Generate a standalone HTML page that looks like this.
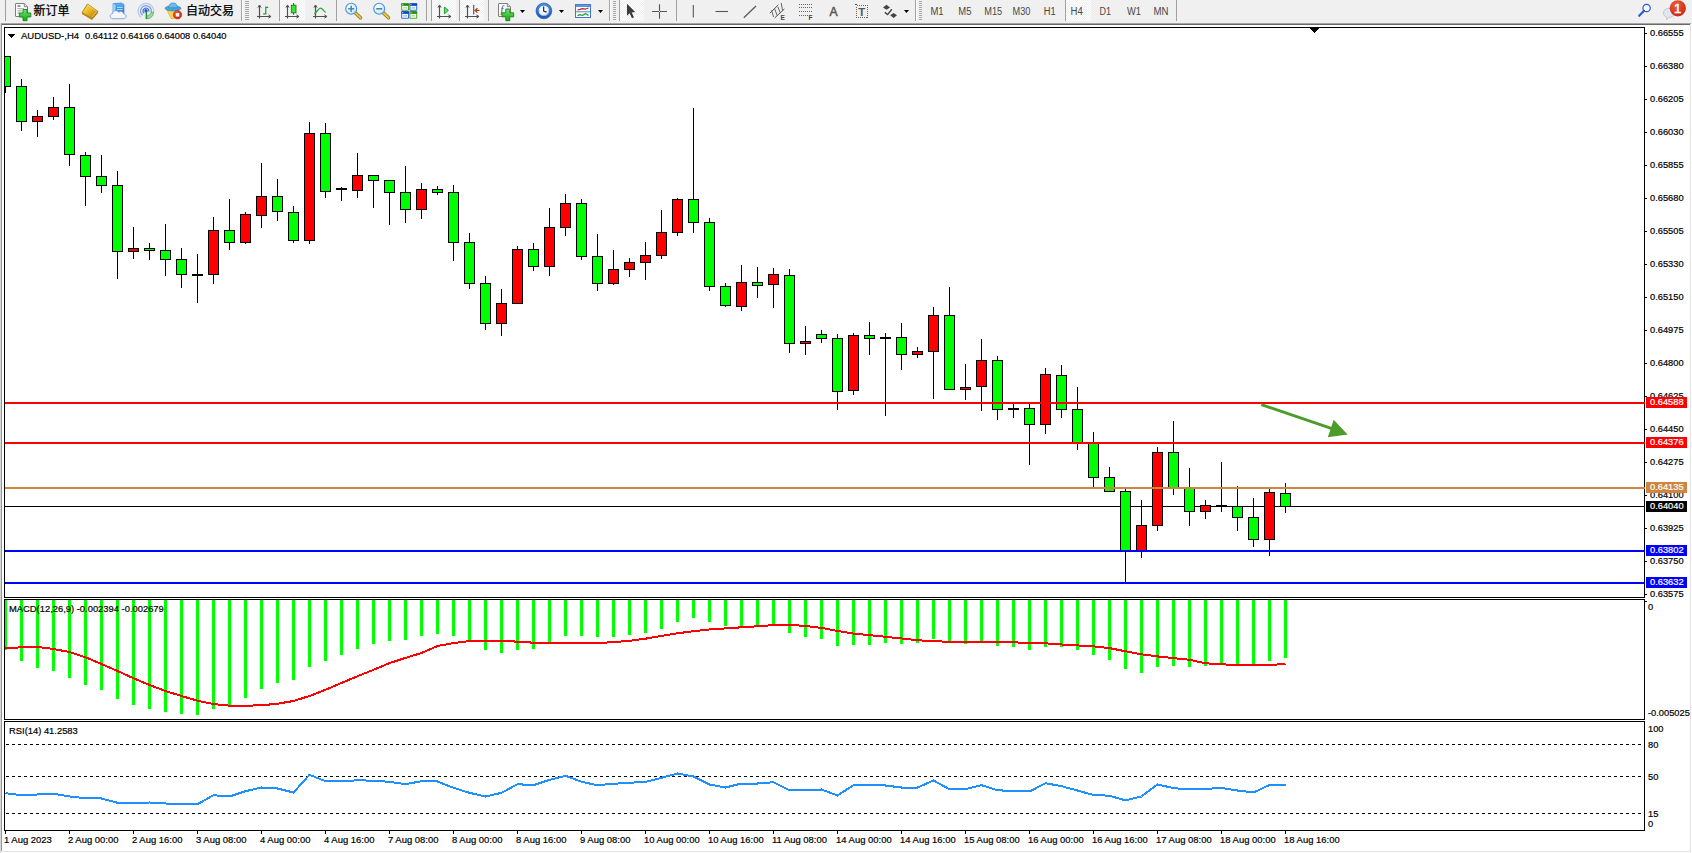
<!DOCTYPE html>
<html><head><meta charset="utf-8"><title>AUDUSD-,H4</title>
<style>
html,body{margin:0;padding:0;background:#fff;}
body{width:1692px;height:853px;overflow:hidden;position:relative;font-family:"Liberation Sans","Noto Sans CJK SC",sans-serif;}
#tb{position:absolute;left:0;top:0;width:1692px;height:23px;background:#f0f0f0;}
#tb svg{position:absolute;left:0;top:0}
</style></head><body>
<div id="tb"><svg width="1692" height="23" viewBox="0 0 1692 23" font-family="Liberation Sans, Noto Sans CJK SC, sans-serif">
<defs>
<linearGradient id="gGold" x1="0" y1="0" x2="1" y2="1"><stop offset="0" stop-color="#ffe680"/><stop offset="0.5" stop-color="#e8b21c"/><stop offset="1" stop-color="#a86c08"/></linearGradient>
<linearGradient id="gGreen" x1="0" y1="0" x2="0" y2="1"><stop offset="0" stop-color="#7be27b"/><stop offset="1" stop-color="#14a514"/></linearGradient>
<linearGradient id="gBlue" x1="0" y1="0" x2="0" y2="1"><stop offset="0" stop-color="#5fb4f5"/><stop offset="1" stop-color="#1d6fd0"/></linearGradient>
<radialGradient id="gLens" cx="0.4" cy="0.35" r="0.7"><stop offset="0" stop-color="#ffffff"/><stop offset="1" stop-color="#bfe0f7"/></radialGradient>
<radialGradient id="gRed" cx="0.4" cy="0.3" r="0.8"><stop offset="0" stop-color="#f0603c"/><stop offset="1" stop-color="#c9200e"/></radialGradient>
<linearGradient id="gRing" x1="0" y1="0" x2="0" y2="1"><stop offset="0" stop-color="#4a90e8"/><stop offset="1" stop-color="#1a52b0"/></linearGradient>
<radialGradient id="gClock" cx="0.45" cy="0.4" r="0.6"><stop offset="0" stop-color="#ffffff"/><stop offset="0.75" stop-color="#e4eefa"/><stop offset="1" stop-color="#9cc0ea"/></radialGradient>
<pattern id="sel" width="2" height="2" patternUnits="userSpaceOnUse"><rect width="2" height="2" fill="#f0f0f0"/><rect width="1" height="1" fill="#fff"/><rect x="1" y="1" width="1" height="1" fill="#fff"/></pattern>
</defs>
<rect x="5" y="0" width="1" height="21" fill="#a0a0a0" shape-rendering="crispEdges"/>
<g>
<path d="M16 3.5 H24.3 L27.5 6.7 V16 Q27.5 16.5 27 16.5 H16 Q15.5 16.5 15.5 16 V4 Q15.5 3.5 16 3.5 Z" fill="#fdfdfd" stroke="#7e7e7e" stroke-width="1"/>
<path d="M24.3 3.5 V6.7 H27.5" fill="#e0e0e0" stroke="#7e7e7e" stroke-width="0.9"/>
<path d="M17.5 6 H20.5" stroke="#555" stroke-width="1.2"/><path d="M17.5 8.7 H24 M17.5 10.9 H22 M17.5 13 H20" stroke="#a0a0a0" stroke-width="1"/>
<path d="M23 9.5 H27 V13 H30.8 V17 H27 V20.7 H23 V17 H19.3 V13 H23 Z" fill="url(#gGreen)" stroke="#0c8a0c" stroke-width="0.9"/>
</g>
<text x="33.6" y="14.9" font-size="12" fill="#000" stroke="#000" stroke-width="0.25">新订单</text>
<g><path d="M87.5 4 L98 11.5 L92 18.7 L82 12.5 Z" fill="url(#gGold)" stroke="#a87410" stroke-width="0.8"/>
<path d="M82 12.5 L92 18.7 L98 11.5 L98 13 L92 20 L82 14 Z" fill="#b57d12"/>
<path d="M87.8 5 L96.6 11.4 L92 17" fill="none" stroke="#fff3b0" stroke-width="0.7" opacity="0.7"/></g>
<g><path d="M113 3.6 L121.5 3 L124 4.6 V14 H113 Z" fill="url(#gBlue)" stroke="#2a7ad8" stroke-width="0.6"/>
<path d="M113 3.6 L115.6 5 V14 H113 Z" fill="#8fd0ff"/>
<path d="M117 7.4 H122.6 M117 9.6 H122.6" stroke="#cfe8ff" stroke-width="0.9"/>
<path d="M112.8 18.7 C109.4 18.7 109.4 14 112.6 13.5 C112.8 10.4 117.2 9.8 118.8 12.2 C120.8 10.6 123.6 11.8 123.8 14 C127 14.2 126.8 18.7 123.6 18.7 Z" fill="#f2f6fb" stroke="#7f9fcf" stroke-width="0.9"/></g>
<g fill="none"><path d="M141 17.2 A7.8 7.8 0 1 1 153.6 12.6" stroke="#b4c8ee" stroke-width="1.2"/>
<path d="M142.6 15.2 A5.3 5.3 0 1 1 151.2 12" stroke="#7f9fe0" stroke-width="1.3"/>
<path d="M144.2 13.3 A2.9 2.9 0 1 1 148.8 11.6" stroke="#4a74d0" stroke-width="1.2"/>
<path d="M146.4 19 A8 8 0 0 0 153.7 12.4 L151.2 12 A5.4 5.4 0 0 1 146.4 16.3 Z" fill="#9adba2" stroke="#3aa848" stroke-width="0.7"/>
<path d="M146.4 11 V19" stroke="#1f9a2a" stroke-width="1.5"/>
<circle cx="146" cy="10.8" r="1.7" fill="#2457c8"/></g>
<g><path d="M166.5 9 L179.5 9 L174 18.5 L171 18.5 Z" fill="#f5d64a" stroke="#d9a520" stroke-width="0.6"/>
<ellipse cx="173" cy="8.3" rx="8" ry="2.6" fill="#4aa3dc" stroke="#2b7fc0" stroke-width="0.6"/>
<path d="M168.7 7.8 C169 3.5 171 3 173 3 C175.5 3 177 3.8 177.4 7.8 Z" fill="#6cbbe8" stroke="#2b7fc0" stroke-width="0.6"/>
<circle cx="177.5" cy="14.8" r="4.2" fill="url(#gRed)" stroke="#b01808" stroke-width="0.5"/>
<rect x="175.8" y="13.1" width="3.4" height="3.4" fill="#fff"/></g>
<text x="186" y="14.9" font-size="12" fill="#000" stroke="#000" stroke-width="0.25">自动交易</text>
<rect x="241" y="0" width="1" height="21" fill="#a0a0a0" shape-rendering="crispEdges"/>
<rect x="242" y="0" width="1" height="21" fill="#fff" shape-rendering="crispEdges"/>
<g shape-rendering="crispEdges" fill="#a8a8a8"><rect x="245" y="1" width="4" height="1"/><rect x="245" y="3" width="4" height="1"/><rect x="245" y="5" width="4" height="1"/><rect x="245" y="7" width="4" height="1"/><rect x="245" y="9" width="4" height="1"/><rect x="245" y="11" width="4" height="1"/><rect x="245" y="13" width="4" height="1"/><rect x="245" y="15" width="4" height="1"/><rect x="245" y="17" width="4" height="1"/><rect x="245" y="19" width="4" height="1"/></g>
<g transform="translate(257,3)" fill="none" stroke="#505050" stroke-width="1.2"><path d="M2.5 2.5 V15.5 M0 13.5 H13.5"/><path d="M0.9 4.6 L2.5 2 L4.1 4.6 M11.4 11.9 L14 13.5 L11.4 15.1" stroke-width="1"/></g>
<path d="M265.8 6.5 V14.5 M265.8 7.4 H268.2 M263.2 13.8 H265.8" stroke="#1f9a2a" stroke-width="1.2" fill="none"/>
<rect x="279" y="0" width="1" height="21" fill="#a0a0a0" shape-rendering="crispEdges"/>
<rect x="280" y="0" width="25" height="21" fill="url(#sel)" shape-rendering="crispEdges"/>
<g transform="translate(285,3)" fill="none" stroke="#505050" stroke-width="1.2"><path d="M2.5 2.5 V15.5 M0 13.5 H13.5"/><path d="M0.9 4.6 L2.5 2 L4.1 4.6 M11.4 11.9 L14 13.5 L11.4 15.1" stroke-width="1"/></g>
<path d="M293.6 3 V14.8" stroke="#0c8a0c" stroke-width="1.1"/><rect x="291.3" y="5.2" width="4.7" height="7.6" fill="#43dc43" stroke="#0c8a0c" stroke-width="0.9"/>
<g transform="translate(313,3)" fill="none" stroke="#505050" stroke-width="1.2"><path d="M2.5 2.5 V15.5 M0 13.5 H13.5"/><path d="M0.9 4.6 L2.5 2 L4.1 4.6 M11.4 11.9 L14 13.5 L11.4 15.1" stroke-width="1"/></g>
<path d="M314.3 13.8 C317 12 318.5 8.2 320.5 8.2 C322.5 8.2 324 11.6 325.8 12.2" stroke="#2aa336" stroke-width="1.2" fill="none"/>
<rect x="336" y="0" width="1" height="21" fill="#a0a0a0" shape-rendering="crispEdges"/>
<g><path d="M355.2 12.8 L360.5 17.8" stroke="#8a6a10" stroke-width="3.4" stroke-linecap="round"/><path d="M355.2 12.8 L360.5 17.8" stroke="#e8c840" stroke-width="2" stroke-linecap="round"/>
<circle cx="351.2" cy="8.8" r="5.5" fill="url(#gLens)" stroke="#4a92e2" stroke-width="1.1"/>
<path d="M348.2 8.8 H354.2 M351.2 5.800000000000001 V11.8" stroke="#4a86ae" stroke-width="1.6" fill="none"/></g>
<g><path d="M383.2 12.8 L388.5 17.8" stroke="#8a6a10" stroke-width="3.4" stroke-linecap="round"/><path d="M383.2 12.8 L388.5 17.8" stroke="#e8c840" stroke-width="2" stroke-linecap="round"/>
<circle cx="379.2" cy="8.8" r="5.5" fill="url(#gLens)" stroke="#4a92e2" stroke-width="1.1"/>
<path d="M376.2 8.8 H382.2" stroke="#4a86ae" stroke-width="1.6" fill="none"/></g>
<rect x="401.2" y="3.2" width="7.8" height="7.6" rx="0.8" fill="#4aa82a"/><rect x="401.2" y="3.2" width="7.8" height="2.4" rx="0.8" fill="#2f8a18"/><rect x="402.2" y="6.0" width="5.8" height="3.8" fill="#fff" opacity="0.95"/><rect x="403.2" y="7.4" width="3.8" height="1" fill="#4aa82a" opacity="0.55"/><rect x="402.2" y="4.2" width="1" height="1" fill="#fff" opacity="0.9"/>
<rect x="409.4" y="3.2" width="7.8" height="7.6" rx="0.8" fill="#2f6fe0"/><rect x="409.4" y="3.2" width="7.8" height="2.4" rx="0.8" fill="#1848b8"/><rect x="410.4" y="6.0" width="5.8" height="3.8" fill="#fff" opacity="0.95"/><rect x="411.4" y="7.4" width="3.8" height="1" fill="#2f6fe0" opacity="0.55"/><rect x="410.4" y="4.2" width="1" height="1" fill="#fff" opacity="0.9"/>
<rect x="401.2" y="11.2" width="7.8" height="7.6" rx="0.8" fill="#2f6fe0"/><rect x="401.2" y="11.2" width="7.8" height="2.4" rx="0.8" fill="#1848b8"/><rect x="402.2" y="14.0" width="5.8" height="3.8" fill="#fff" opacity="0.95"/><rect x="403.2" y="15.399999999999999" width="3.8" height="1" fill="#2f6fe0" opacity="0.55"/><rect x="402.2" y="12.2" width="1" height="1" fill="#fff" opacity="0.9"/>
<rect x="409.4" y="11.2" width="7.8" height="7.6" rx="0.8" fill="#4aa82a"/><rect x="409.4" y="11.2" width="7.8" height="2.4" rx="0.8" fill="#2f8a18"/><rect x="410.4" y="14.0" width="5.8" height="3.8" fill="#fff" opacity="0.95"/><rect x="411.4" y="15.399999999999999" width="3.8" height="1" fill="#4aa82a" opacity="0.55"/><rect x="410.4" y="12.2" width="1" height="1" fill="#fff" opacity="0.9"/>
<rect x="426" y="0" width="1" height="21" fill="#a0a0a0" shape-rendering="crispEdges"/>
<rect x="431" y="0" width="1" height="21" fill="#a0a0a0" shape-rendering="crispEdges"/>
<rect x="432" y="0" width="24" height="21" fill="url(#sel)" shape-rendering="crispEdges"/>
<g transform="translate(437,3)" fill="none" stroke="#505050" stroke-width="1.2"><path d="M2.5 2.5 V15.5 M0 13.5 H13.5"/><path d="M0.9 4.6 L2.5 2 L4.1 4.6 M11.4 11.9 L14 13.5 L11.4 15.1" stroke-width="1"/></g>
<path d="M444.4 7 L448.4 10.4 L444.4 13.8 Z" fill="#5fe06a" stroke="#139a22" stroke-width="0.9"/>
<rect x="459" y="0" width="1" height="21" fill="#a0a0a0" shape-rendering="crispEdges"/>
<rect x="460" y="0" width="24" height="21" fill="url(#sel)" shape-rendering="crispEdges"/>
<g transform="translate(465,3)" fill="none" stroke="#505050" stroke-width="1.2"><path d="M2.5 2.5 V15.5 M0 13.5 H13.5"/><path d="M0.9 4.6 L2.5 2 L4.1 4.6 M11.4 11.9 L14 13.5 L11.4 15.1" stroke-width="1"/></g>
<path d="M473.7 5 V14.6" stroke="#1f6fa8" stroke-width="1.2"/><path d="M474.6 10.4 H479.4 M477.4 8.2 L475 10.4 L477.4 12.6" stroke="#c8380c" stroke-width="1.2" fill="none"/>
<rect x="488" y="0" width="1" height="21" fill="#a0a0a0" shape-rendering="crispEdges"/>
<g><path d="M499 3.5 H507.3 L510.5 6.7 V16 Q510.5 16.5 510 16.5 H499 Q498.5 16.5 498.5 16 V4 Q498.5 3.5 499 3.5 Z" fill="#fdfdfd" stroke="#7e7e7e" stroke-width="1"/>
<path d="M507.3 3.5 V6.7 H510.5" fill="#e0e0e0" stroke="#7e7e7e" stroke-width="0.9"/>
<text x="500.6" y="13" font-size="10" font-style="italic" font-family="Liberation Serif, serif" fill="#444">f</text>
<path d="M505.8 9 H509.8 V12.8 H513.7 V16.8 H509.8 V20.7 H505.8 V16.8 H502 V12.8 H505.8 Z" fill="url(#gGreen)" stroke="#0c8a0c" stroke-width="0.9"/></g>
<path transform="translate(520,10)" d="M0 0 H5 L2.5 3 Z" fill="#000"/>
<g><circle cx="543.9" cy="10.9" r="7.9" fill="url(#gRing)"/><circle cx="543.9" cy="10.9" r="7.9" fill="none" stroke="#1b4fa8" stroke-width="0.6"/>
<circle cx="543.9" cy="10.7" r="5.3" fill="url(#gClock)"/>
<path d="M543.6 6.6 V11 L546.6 12.2" stroke="#333" stroke-width="1.3" fill="none"/>
<path d="M543.9 5.6 V6.2 M543.9 15.2 V15.9 M539 10.8 H539.7 M548.2 10.8 H548.9" stroke="#888" stroke-width="0.8"/></g>
<path transform="translate(559,10)" d="M0 0 H5 L2.5 3 Z" fill="#000"/>
<g><rect x="575.5" y="4.5" width="15" height="13" fill="#fdfdfd" stroke="#3a78d0" stroke-width="1"/>
<rect x="575.5" y="4.5" width="15" height="2.2" fill="#5a98e8" stroke="#3a78d0" stroke-width="0.6"/>
<path d="M575.5 11.8 H590.5" stroke="#3a78d0" stroke-width="0.9"/>
<path d="M577.5 10 L580 9.4 L582.5 8.6 L585 9.2 L588.5 8" stroke="#b02818" stroke-width="1.2" fill="none"/>
<path d="M577.5 15.6 L580 14.6 L582.5 15.4 L585.5 13.8 L588.5 15.4" stroke="#1f9a2a" stroke-width="1.2" fill="none"/></g>
<path transform="translate(598,10)" d="M0 0 H5 L2.5 3 Z" fill="#000"/>
<rect x="609" y="0" width="1" height="21" fill="#a0a0a0" shape-rendering="crispEdges"/>
<rect x="610" y="0" width="1" height="21" fill="#fff" shape-rendering="crispEdges"/>
<g shape-rendering="crispEdges" fill="#a8a8a8"><rect x="613" y="1" width="3" height="1"/><rect x="613" y="3" width="3" height="1"/><rect x="613" y="5" width="3" height="1"/><rect x="613" y="7" width="3" height="1"/><rect x="613" y="9" width="3" height="1"/><rect x="613" y="11" width="3" height="1"/><rect x="613" y="13" width="3" height="1"/><rect x="613" y="15" width="3" height="1"/><rect x="613" y="17" width="3" height="1"/><rect x="613" y="19" width="3" height="1"/></g>
<rect x="619" y="0" width="1" height="21" fill="#a0a0a0" shape-rendering="crispEdges"/>
<rect x="620" y="0" width="24" height="21" fill="url(#sel)" shape-rendering="crispEdges"/>
<path d="M627 3.8 V15.8 L629.6 13.2 L632 18.2 L634 17.2 L631.6 12.4 L635.2 12 Z" fill="#3c3c3c"/>
<path d="M659.5 4.2 V18.8 M652 11.5 H667" stroke="#555" stroke-width="1.1" fill="none"/><rect x="659" y="11" width="1" height="1" fill="#ddd"/>
<rect x="676" y="0" width="1" height="21" fill="#a0a0a0" shape-rendering="crispEdges"/>
<path d="M693.3 5 V17.5" stroke="#555" stroke-width="1.1"/>
<path d="M715.5 11.5 H728" stroke="#555" stroke-width="1.1"/>
<path d="M743.8 17.8 L756 6" stroke="#555" stroke-width="1.2"/>
<g stroke="#555" stroke-width="1" fill="none"><path d="M769.8 13.2 L778.4 4.8 M774.6 18 L784.4 9"/><path d="M771.5 10.5 L773.6 17 M774.6 8.6 L777.2 15.6 M777.8 6.8 L780.4 13 M781.2 3 L782.6 10.6" stroke-width="0.9"/></g>
<text x="780.5" y="20" font-size="6.5" font-weight="bold" fill="#444">E</text>
<g stroke="#666" stroke-width="1" stroke-dasharray="1 1" shape-rendering="crispEdges"><path d="M799 4.5 H813 M799 7.5 H813 M799 11.5 H813 M799 15.5 H809"/></g>
<text x="808.5" y="20" font-size="6.5" font-weight="bold" fill="#444">F</text>
<text x="829.4" y="15.9" font-size="12.2" fill="#555" stroke="#555" stroke-width="0.45">A</text>
<rect x="856.5" y="5.5" width="11" height="12" fill="none" stroke="#666" stroke-width="1" stroke-dasharray="1 1" shape-rendering="crispEdges"/><rect x="855" y="4" width="2" height="1" fill="#555"/>
<text x="858.2" y="15.5" font-size="11.4" font-weight="bold" fill="#555">T</text>
<g fill="#444"><path d="M886.5 4.8 L890 7.6 L886.5 9.8 L883 7.6 Z"/><path d="M893.6 13 L897 15.2 L893.6 18 L890.2 15.2 Z"/>
<path d="M884.8 12.4 L887.6 14.6 L891.8 9.2" stroke="#444" stroke-width="1.4" fill="none"/></g>
<path transform="translate(904,10)" d="M0 0 H5 L2.5 3 Z" fill="#000"/>
<rect x="915" y="0" width="1" height="21" fill="#a0a0a0" shape-rendering="crispEdges"/>
<rect x="916" y="0" width="1" height="21" fill="#fff" shape-rendering="crispEdges"/>
<g shape-rendering="crispEdges" fill="#a8a8a8"><rect x="919" y="1" width="3" height="1"/><rect x="919" y="3" width="3" height="1"/><rect x="919" y="5" width="3" height="1"/><rect x="919" y="7" width="3" height="1"/><rect x="919" y="9" width="3" height="1"/><rect x="919" y="11" width="3" height="1"/><rect x="919" y="13" width="3" height="1"/><rect x="919" y="15" width="3" height="1"/><rect x="919" y="17" width="3" height="1"/><rect x="919" y="19" width="3" height="1"/></g>
<rect x="1065" y="0" width="1" height="21" fill="#a0a0a0" shape-rendering="crispEdges"/>
<rect x="1066" y="0" width="25" height="21" fill="url(#sel)" shape-rendering="crispEdges"/>
<text x="930.4" y="14.7" font-size="10" fill="#484848" textLength="13.2" lengthAdjust="spacingAndGlyphs">M1</text>
<text x="958.3" y="14.7" font-size="10" fill="#484848" textLength="13.1" lengthAdjust="spacingAndGlyphs">M5</text>
<text x="984.3" y="14.7" font-size="10" fill="#484848" textLength="17.9" lengthAdjust="spacingAndGlyphs">M15</text>
<text x="1012.5" y="14.7" font-size="10" fill="#484848" textLength="17.9" lengthAdjust="spacingAndGlyphs">M30</text>
<text x="1043.7" y="14.7" font-size="10" fill="#484848" textLength="11.9" lengthAdjust="spacingAndGlyphs">H1</text>
<text x="1070.5" y="14.7" font-size="10" fill="#484848" textLength="12.3" lengthAdjust="spacingAndGlyphs">H4</text>
<text x="1099.5" y="14.7" font-size="10" fill="#484848" textLength="11.5" lengthAdjust="spacingAndGlyphs">D1</text>
<text x="1127" y="14.7" font-size="10" fill="#484848" textLength="14" lengthAdjust="spacingAndGlyphs">W1</text>
<text x="1153.4" y="14.7" font-size="10" fill="#484848" textLength="15" lengthAdjust="spacingAndGlyphs">MN</text>
<rect x="1176" y="0" width="1" height="21" fill="#a0a0a0" shape-rendering="crispEdges"/>
<g fill="none"><circle cx="1646.6" cy="8" r="3.7" stroke="#2a5bd0" stroke-width="1.2" fill="#f6f8ff"/><path d="M1644 10.8 L1639.2 15.8" stroke="#2a5bd0" stroke-width="2.2" stroke-linecap="round"/></g>
<g><path d="M1663.5 13.2 a5.6 4.6 0 1 1 5 4.2 l-1.8 2.2 l-0.2 -2.6 a5 4 0 0 1 -3 -3.8 Z" fill="#e4e6ee" stroke="#b4b6c0" stroke-width="0.7"/>
<circle cx="1677.8" cy="8.3" r="8.1" fill="url(#gRed)"/>
<text x="1674.1" y="13" font-size="13" fill="#fff" stroke="#fff" stroke-width="0.5">1</text></g>
</svg></div>
<svg width="1692" height="853" viewBox="0 0 1692 853" style="position:absolute;left:0;top:0" shape-rendering="crispEdges" font-family="Liberation Sans, sans-serif">
<rect x="0" y="23" width="1691" height="1" fill="#a6a6a6"/>
<rect x="0" y="24" width="1691" height="1" fill="#696969"/>
<rect x="0" y="23" width="1" height="830" fill="#d8d8d8"/>
<rect x="1" y="24" width="1" height="828" fill="#969696"/>
<rect x="1690" y="24" width="1" height="828" fill="#e3e3e3"/>
<rect x="0" y="851" width="1691" height="1" fill="#e3e3e3"/>
<rect x="4" y="27" width="1641" height="1" fill="#000"/>
<rect x="4" y="27" width="1" height="571" fill="#000"/>
<rect x="4" y="597" width="1641" height="1" fill="#000"/>
<rect x="1644" y="27" width="1" height="571" fill="#000"/>
<rect x="4" y="599" width="1641" height="1" fill="#000"/>
<rect x="4" y="599" width="1" height="121" fill="#000"/>
<rect x="4" y="719" width="1641" height="1" fill="#000"/>
<rect x="1644" y="599" width="1" height="121" fill="#000"/>
<rect x="4" y="721" width="1641" height="1" fill="#000"/>
<rect x="4" y="721" width="1" height="110" fill="#000"/>
<rect x="4" y="830" width="1641" height="1" fill="#000"/>
<rect x="1644" y="721" width="1" height="110" fill="#000"/>
<path d="M1309 28 H1319 L1314 33 Z" fill="#000"/>
<rect x="5" y="506" width="1639" height="1" fill="#000"/>
<g>
<rect x="5" y="56" width="1" height="37" fill="#000"/>
<rect x="5" y="56" width="6" height="31" fill="#000"/>
<rect x="5" y="57" width="5" height="29" fill="#0f0"/>
<rect x="21" y="79" width="1" height="52" fill="#000"/>
<rect x="16" y="86" width="11" height="36" fill="#000"/>
<rect x="17" y="87" width="9" height="34" fill="#0f0"/>
<rect x="37" y="110" width="1" height="27" fill="#000"/>
<rect x="32" y="116" width="11" height="6" fill="#000"/>
<rect x="33" y="117" width="9" height="4" fill="#f00"/>
<rect x="53" y="97" width="1" height="23" fill="#000"/>
<rect x="48" y="107" width="11" height="10" fill="#000"/>
<rect x="49" y="108" width="9" height="8" fill="#f00"/>
<rect x="69" y="84" width="1" height="82" fill="#000"/>
<rect x="64" y="107" width="11" height="48" fill="#000"/>
<rect x="65" y="108" width="9" height="46" fill="#0f0"/>
<rect x="85" y="152" width="1" height="54" fill="#000"/>
<rect x="80" y="155" width="11" height="22" fill="#000"/>
<rect x="81" y="156" width="9" height="20" fill="#0f0"/>
<rect x="101" y="155" width="1" height="38" fill="#000"/>
<rect x="96" y="176" width="11" height="10" fill="#000"/>
<rect x="97" y="177" width="9" height="8" fill="#0f0"/>
<rect x="117" y="171" width="1" height="108" fill="#000"/>
<rect x="112" y="185" width="11" height="67" fill="#000"/>
<rect x="113" y="186" width="9" height="65" fill="#0f0"/>
<rect x="133" y="227" width="1" height="32" fill="#000"/>
<rect x="128" y="248" width="11" height="4" fill="#000"/>
<rect x="129" y="249" width="9" height="2" fill="#f00"/>
<rect x="149" y="243" width="1" height="17" fill="#000"/>
<rect x="144" y="248" width="11" height="3" fill="#000"/>
<rect x="145" y="249" width="9" height="1" fill="#0f0"/>
<rect x="165" y="224" width="1" height="52" fill="#000"/>
<rect x="160" y="250" width="11" height="10" fill="#000"/>
<rect x="161" y="251" width="9" height="8" fill="#0f0"/>
<rect x="181" y="248" width="1" height="40" fill="#000"/>
<rect x="176" y="259" width="11" height="16" fill="#000"/>
<rect x="177" y="260" width="9" height="14" fill="#0f0"/>
<rect x="197" y="254" width="1" height="49" fill="#000"/>
<rect x="192" y="274" width="11" height="2" fill="#000"/>
<rect x="213" y="217" width="1" height="67" fill="#000"/>
<rect x="208" y="230" width="11" height="45" fill="#000"/>
<rect x="209" y="231" width="9" height="43" fill="#f00"/>
<rect x="229" y="199" width="1" height="51" fill="#000"/>
<rect x="224" y="230" width="11" height="13" fill="#000"/>
<rect x="225" y="231" width="9" height="11" fill="#0f0"/>
<rect x="245" y="212" width="1" height="32" fill="#000"/>
<rect x="240" y="214" width="11" height="29" fill="#000"/>
<rect x="241" y="215" width="9" height="27" fill="#f00"/>
<rect x="261" y="163" width="1" height="65" fill="#000"/>
<rect x="256" y="196" width="11" height="20" fill="#000"/>
<rect x="257" y="197" width="9" height="18" fill="#f00"/>
<rect x="277" y="179" width="1" height="42" fill="#000"/>
<rect x="272" y="196" width="11" height="16" fill="#000"/>
<rect x="273" y="197" width="9" height="14" fill="#0f0"/>
<rect x="293" y="206" width="1" height="37" fill="#000"/>
<rect x="288" y="212" width="11" height="29" fill="#000"/>
<rect x="289" y="213" width="9" height="27" fill="#0f0"/>
<rect x="309" y="122" width="1" height="122" fill="#000"/>
<rect x="304" y="133" width="11" height="108" fill="#000"/>
<rect x="305" y="134" width="9" height="106" fill="#f00"/>
<rect x="325" y="123" width="1" height="75" fill="#000"/>
<rect x="320" y="133" width="11" height="59" fill="#000"/>
<rect x="321" y="134" width="9" height="57" fill="#0f0"/>
<rect x="341" y="187" width="1" height="14" fill="#000"/>
<rect x="336" y="188" width="11" height="2" fill="#000"/>
<rect x="357" y="153" width="1" height="45" fill="#000"/>
<rect x="352" y="175" width="11" height="16" fill="#000"/>
<rect x="353" y="176" width="9" height="14" fill="#f00"/>
<rect x="373" y="175" width="1" height="33" fill="#000"/>
<rect x="368" y="175" width="11" height="6" fill="#000"/>
<rect x="369" y="176" width="9" height="4" fill="#0f0"/>
<rect x="389" y="180" width="1" height="45" fill="#000"/>
<rect x="384" y="180" width="11" height="13" fill="#000"/>
<rect x="385" y="181" width="9" height="11" fill="#0f0"/>
<rect x="405" y="166" width="1" height="57" fill="#000"/>
<rect x="400" y="192" width="11" height="18" fill="#000"/>
<rect x="401" y="193" width="9" height="16" fill="#0f0"/>
<rect x="421" y="183" width="1" height="36" fill="#000"/>
<rect x="416" y="189" width="11" height="21" fill="#000"/>
<rect x="417" y="190" width="9" height="19" fill="#f00"/>
<rect x="437" y="186" width="1" height="9" fill="#000"/>
<rect x="432" y="189" width="11" height="4" fill="#000"/>
<rect x="433" y="190" width="9" height="2" fill="#0f0"/>
<rect x="453" y="185" width="1" height="76" fill="#000"/>
<rect x="448" y="192" width="11" height="51" fill="#000"/>
<rect x="449" y="193" width="9" height="49" fill="#0f0"/>
<rect x="469" y="233" width="1" height="56" fill="#000"/>
<rect x="464" y="242" width="11" height="42" fill="#000"/>
<rect x="465" y="243" width="9" height="40" fill="#0f0"/>
<rect x="485" y="276" width="1" height="54" fill="#000"/>
<rect x="480" y="283" width="11" height="41" fill="#000"/>
<rect x="481" y="284" width="9" height="39" fill="#0f0"/>
<rect x="501" y="289" width="1" height="47" fill="#000"/>
<rect x="496" y="303" width="11" height="21" fill="#000"/>
<rect x="497" y="304" width="9" height="19" fill="#f00"/>
<rect x="517" y="246" width="1" height="58" fill="#000"/>
<rect x="512" y="249" width="11" height="55" fill="#000"/>
<rect x="513" y="250" width="9" height="53" fill="#f00"/>
<rect x="533" y="243" width="1" height="28" fill="#000"/>
<rect x="528" y="249" width="11" height="18" fill="#000"/>
<rect x="529" y="250" width="9" height="16" fill="#0f0"/>
<rect x="549" y="208" width="1" height="68" fill="#000"/>
<rect x="544" y="227" width="11" height="40" fill="#000"/>
<rect x="545" y="228" width="9" height="38" fill="#f00"/>
<rect x="565" y="194" width="1" height="42" fill="#000"/>
<rect x="560" y="203" width="11" height="25" fill="#000"/>
<rect x="561" y="204" width="9" height="23" fill="#f00"/>
<rect x="581" y="199" width="1" height="61" fill="#000"/>
<rect x="576" y="203" width="11" height="54" fill="#000"/>
<rect x="577" y="204" width="9" height="52" fill="#0f0"/>
<rect x="597" y="234" width="1" height="57" fill="#000"/>
<rect x="592" y="256" width="11" height="28" fill="#000"/>
<rect x="593" y="257" width="9" height="26" fill="#0f0"/>
<rect x="613" y="250" width="1" height="35" fill="#000"/>
<rect x="608" y="269" width="11" height="15" fill="#000"/>
<rect x="609" y="270" width="9" height="13" fill="#f00"/>
<rect x="629" y="258" width="1" height="19" fill="#000"/>
<rect x="624" y="262" width="11" height="8" fill="#000"/>
<rect x="625" y="263" width="9" height="6" fill="#f00"/>
<rect x="645" y="242" width="1" height="38" fill="#000"/>
<rect x="640" y="255" width="11" height="8" fill="#000"/>
<rect x="641" y="256" width="9" height="6" fill="#f00"/>
<rect x="661" y="210" width="1" height="49" fill="#000"/>
<rect x="656" y="232" width="11" height="24" fill="#000"/>
<rect x="657" y="233" width="9" height="22" fill="#f00"/>
<rect x="677" y="198" width="1" height="38" fill="#000"/>
<rect x="672" y="199" width="11" height="34" fill="#000"/>
<rect x="673" y="200" width="9" height="32" fill="#f00"/>
<rect x="693" y="108" width="1" height="125" fill="#000"/>
<rect x="688" y="199" width="11" height="24" fill="#000"/>
<rect x="689" y="200" width="9" height="22" fill="#0f0"/>
<rect x="709" y="218" width="1" height="73" fill="#000"/>
<rect x="704" y="222" width="11" height="65" fill="#000"/>
<rect x="705" y="223" width="9" height="63" fill="#0f0"/>
<rect x="725" y="283" width="1" height="24" fill="#000"/>
<rect x="720" y="286" width="11" height="20" fill="#000"/>
<rect x="721" y="287" width="9" height="18" fill="#0f0"/>
<rect x="741" y="265" width="1" height="46" fill="#000"/>
<rect x="736" y="282" width="11" height="25" fill="#000"/>
<rect x="737" y="283" width="9" height="23" fill="#f00"/>
<rect x="757" y="267" width="1" height="31" fill="#000"/>
<rect x="752" y="282" width="11" height="4" fill="#000"/>
<rect x="753" y="283" width="9" height="2" fill="#0f0"/>
<rect x="773" y="268" width="1" height="40" fill="#000"/>
<rect x="768" y="274" width="11" height="11" fill="#000"/>
<rect x="769" y="275" width="9" height="9" fill="#f00"/>
<rect x="789" y="269" width="1" height="84" fill="#000"/>
<rect x="784" y="275" width="11" height="69" fill="#000"/>
<rect x="785" y="276" width="9" height="67" fill="#0f0"/>
<rect x="805" y="326" width="1" height="29" fill="#000"/>
<rect x="800" y="341" width="11" height="3" fill="#000"/>
<rect x="801" y="342" width="9" height="1" fill="#f00"/>
<rect x="821" y="330" width="1" height="13" fill="#000"/>
<rect x="816" y="334" width="11" height="5" fill="#000"/>
<rect x="817" y="335" width="9" height="3" fill="#0f0"/>
<rect x="837" y="334" width="1" height="76" fill="#000"/>
<rect x="832" y="338" width="11" height="54" fill="#000"/>
<rect x="833" y="339" width="9" height="52" fill="#0f0"/>
<rect x="853" y="333" width="1" height="62" fill="#000"/>
<rect x="848" y="335" width="11" height="56" fill="#000"/>
<rect x="849" y="336" width="9" height="54" fill="#f00"/>
<rect x="869" y="322" width="1" height="33" fill="#000"/>
<rect x="864" y="335" width="11" height="4" fill="#000"/>
<rect x="865" y="336" width="9" height="2" fill="#0f0"/>
<rect x="885" y="333" width="1" height="83" fill="#000"/>
<rect x="880" y="337" width="11" height="2" fill="#000"/>
<rect x="901" y="323" width="1" height="47" fill="#000"/>
<rect x="896" y="337" width="11" height="18" fill="#000"/>
<rect x="897" y="338" width="9" height="16" fill="#0f0"/>
<rect x="917" y="347" width="1" height="11" fill="#000"/>
<rect x="912" y="351" width="11" height="4" fill="#000"/>
<rect x="913" y="352" width="9" height="2" fill="#f00"/>
<rect x="933" y="307" width="1" height="92" fill="#000"/>
<rect x="928" y="315" width="11" height="37" fill="#000"/>
<rect x="929" y="316" width="9" height="35" fill="#f00"/>
<rect x="949" y="287" width="1" height="103" fill="#000"/>
<rect x="944" y="315" width="11" height="75" fill="#000"/>
<rect x="945" y="316" width="9" height="73" fill="#0f0"/>
<rect x="965" y="364" width="1" height="36" fill="#000"/>
<rect x="960" y="387" width="11" height="3" fill="#000"/>
<rect x="961" y="388" width="9" height="1" fill="#f00"/>
<rect x="981" y="339" width="1" height="72" fill="#000"/>
<rect x="976" y="360" width="11" height="27" fill="#000"/>
<rect x="977" y="361" width="9" height="25" fill="#f00"/>
<rect x="997" y="356" width="1" height="64" fill="#000"/>
<rect x="992" y="360" width="11" height="50" fill="#000"/>
<rect x="993" y="361" width="9" height="48" fill="#0f0"/>
<rect x="1013" y="404" width="1" height="14" fill="#000"/>
<rect x="1008" y="408" width="11" height="2" fill="#000"/>
<rect x="1029" y="404" width="1" height="61" fill="#000"/>
<rect x="1024" y="408" width="11" height="17" fill="#000"/>
<rect x="1025" y="409" width="9" height="15" fill="#0f0"/>
<rect x="1045" y="368" width="1" height="66" fill="#000"/>
<rect x="1040" y="374" width="11" height="51" fill="#000"/>
<rect x="1041" y="375" width="9" height="49" fill="#f00"/>
<rect x="1061" y="365" width="1" height="53" fill="#000"/>
<rect x="1056" y="375" width="11" height="35" fill="#000"/>
<rect x="1057" y="376" width="9" height="33" fill="#0f0"/>
<rect x="1077" y="387" width="1" height="63" fill="#000"/>
<rect x="1072" y="409" width="11" height="35" fill="#000"/>
<rect x="1073" y="410" width="9" height="33" fill="#0f0"/>
<rect x="1093" y="432" width="1" height="55" fill="#000"/>
<rect x="1088" y="443" width="11" height="35" fill="#000"/>
<rect x="1089" y="444" width="9" height="33" fill="#0f0"/>
<rect x="1109" y="467" width="1" height="25" fill="#000"/>
<rect x="1104" y="477" width="11" height="15" fill="#000"/>
<rect x="1105" y="478" width="9" height="13" fill="#0f0"/>
<rect x="1125" y="489" width="1" height="94" fill="#000"/>
<rect x="1120" y="491" width="11" height="60" fill="#000"/>
<rect x="1121" y="492" width="9" height="58" fill="#0f0"/>
<rect x="1141" y="500" width="1" height="58" fill="#000"/>
<rect x="1136" y="525" width="11" height="26" fill="#000"/>
<rect x="1137" y="526" width="9" height="24" fill="#f00"/>
<rect x="1157" y="447" width="1" height="84" fill="#000"/>
<rect x="1152" y="452" width="11" height="74" fill="#000"/>
<rect x="1153" y="453" width="9" height="72" fill="#f00"/>
<rect x="1173" y="421" width="1" height="74" fill="#000"/>
<rect x="1168" y="452" width="11" height="37" fill="#000"/>
<rect x="1169" y="453" width="9" height="35" fill="#0f0"/>
<rect x="1189" y="468" width="1" height="58" fill="#000"/>
<rect x="1184" y="488" width="11" height="24" fill="#000"/>
<rect x="1185" y="489" width="9" height="22" fill="#0f0"/>
<rect x="1205" y="500" width="1" height="19" fill="#000"/>
<rect x="1200" y="505" width="11" height="7" fill="#000"/>
<rect x="1201" y="506" width="9" height="5" fill="#f00"/>
<rect x="1221" y="462" width="1" height="50" fill="#000"/>
<rect x="1216" y="505" width="11" height="1" fill="#000"/>
<rect x="1237" y="486" width="1" height="45" fill="#000"/>
<rect x="1232" y="506" width="11" height="12" fill="#000"/>
<rect x="1233" y="507" width="9" height="10" fill="#0f0"/>
<rect x="1253" y="498" width="1" height="49" fill="#000"/>
<rect x="1248" y="517" width="11" height="23" fill="#000"/>
<rect x="1249" y="518" width="9" height="21" fill="#0f0"/>
<rect x="1269" y="489" width="1" height="67" fill="#000"/>
<rect x="1264" y="492" width="11" height="48" fill="#000"/>
<rect x="1265" y="493" width="9" height="46" fill="#f00"/>
<rect x="1285" y="483" width="1" height="30" fill="#000"/>
<rect x="1280" y="493" width="11" height="14" fill="#000"/>
<rect x="1281" y="494" width="9" height="12" fill="#0f0"/>
</g>
<rect x="5" y="402" width="1640" height="2" fill="#f00"/>
<rect x="5" y="442" width="1640" height="2" fill="#f00"/>
<rect x="5" y="487" width="1640" height="2" fill="#cd853f"/>
<rect x="5" y="550" width="1640" height="2" fill="#00f"/>
<rect x="5" y="582" width="1640" height="2" fill="#00f"/>
<g shape-rendering="auto"><path d="M1261.3 404.6 L1332 428.6" stroke="#4c9c2a" stroke-width="2.8" fill="none"/><path d="M1347.6 434.4 L1333.7 419.8 L1327.8 437.3 Z" fill="#4c9c2a"/></g>
<g shape-rendering="auto">
<rect x="1645" y="33" width="2" height="1" fill="#000" shape-rendering="crispEdges"/>
<text x="1650" y="36.4" font-size="9.3" fill="#000" stroke="#000" stroke-width="0.2">0.66555</text>
<rect x="1645" y="66" width="2" height="1" fill="#000" shape-rendering="crispEdges"/>
<text x="1650" y="69.4" font-size="9.3" fill="#000" stroke="#000" stroke-width="0.2">0.66380</text>
<rect x="1645" y="99" width="2" height="1" fill="#000" shape-rendering="crispEdges"/>
<text x="1650" y="102.4" font-size="9.3" fill="#000" stroke="#000" stroke-width="0.2">0.66205</text>
<rect x="1645" y="132" width="2" height="1" fill="#000" shape-rendering="crispEdges"/>
<text x="1650" y="135.4" font-size="9.3" fill="#000" stroke="#000" stroke-width="0.2">0.66030</text>
<rect x="1645" y="165" width="2" height="1" fill="#000" shape-rendering="crispEdges"/>
<text x="1650" y="168.4" font-size="9.3" fill="#000" stroke="#000" stroke-width="0.2">0.65855</text>
<rect x="1645" y="198" width="2" height="1" fill="#000" shape-rendering="crispEdges"/>
<text x="1650" y="201.4" font-size="9.3" fill="#000" stroke="#000" stroke-width="0.2">0.65680</text>
<rect x="1645" y="231" width="2" height="1" fill="#000" shape-rendering="crispEdges"/>
<text x="1650" y="234.4" font-size="9.3" fill="#000" stroke="#000" stroke-width="0.2">0.65505</text>
<rect x="1645" y="264" width="2" height="1" fill="#000" shape-rendering="crispEdges"/>
<text x="1650" y="267.4" font-size="9.3" fill="#000" stroke="#000" stroke-width="0.2">0.65330</text>
<rect x="1645" y="297" width="2" height="1" fill="#000" shape-rendering="crispEdges"/>
<text x="1650" y="300.4" font-size="9.3" fill="#000" stroke="#000" stroke-width="0.2">0.65150</text>
<rect x="1645" y="330" width="2" height="1" fill="#000" shape-rendering="crispEdges"/>
<text x="1650" y="333.4" font-size="9.3" fill="#000" stroke="#000" stroke-width="0.2">0.64975</text>
<rect x="1645" y="363" width="2" height="1" fill="#000" shape-rendering="crispEdges"/>
<text x="1650" y="366.4" font-size="9.3" fill="#000" stroke="#000" stroke-width="0.2">0.64800</text>
<rect x="1645" y="396" width="2" height="1" fill="#000" shape-rendering="crispEdges"/>
<text x="1650" y="399.4" font-size="9.3" fill="#000" stroke="#000" stroke-width="0.2">0.64625</text>
<rect x="1645" y="429" width="2" height="1" fill="#000" shape-rendering="crispEdges"/>
<text x="1650" y="432.4" font-size="9.3" fill="#000" stroke="#000" stroke-width="0.2">0.64450</text>
<rect x="1645" y="462" width="2" height="1" fill="#000" shape-rendering="crispEdges"/>
<text x="1650" y="465.4" font-size="9.3" fill="#000" stroke="#000" stroke-width="0.2">0.64275</text>
<rect x="1645" y="495" width="2" height="1" fill="#000" shape-rendering="crispEdges"/>
<text x="1650" y="498.4" font-size="9.3" fill="#000" stroke="#000" stroke-width="0.2">0.64100</text>
<rect x="1645" y="528" width="2" height="1" fill="#000" shape-rendering="crispEdges"/>
<text x="1650" y="531.4" font-size="9.3" fill="#000" stroke="#000" stroke-width="0.2">0.63925</text>
<rect x="1645" y="561" width="2" height="1" fill="#000" shape-rendering="crispEdges"/>
<text x="1650" y="564.4" font-size="9.3" fill="#000" stroke="#000" stroke-width="0.2">0.63750</text>
<rect x="1645" y="594" width="2" height="1" fill="#000" shape-rendering="crispEdges"/>
<text x="1650" y="597.4" font-size="9.3" fill="#000" stroke="#000" stroke-width="0.2">0.63575</text>
</g>
<rect x="1646" y="397" width="41" height="11" fill="#f00"/>
<text x="1650" y="405.4" font-size="9.3" fill="#fff" stroke="#fff" stroke-width="0.2">0.64588</text>
<rect x="1646" y="437" width="41" height="11" fill="#f00"/>
<text x="1650" y="445.4" font-size="9.3" fill="#fff" stroke="#fff" stroke-width="0.2">0.64376</text>
<rect x="1646" y="482" width="41" height="11" fill="#cd853f"/>
<text x="1650" y="490.4" font-size="9.3" fill="#fff" stroke="#fff" stroke-width="0.2">0.64135</text>
<rect x="1646" y="501" width="41" height="11" fill="#000"/>
<text x="1650" y="509.4" font-size="9.3" fill="#fff" stroke="#fff" stroke-width="0.2">0.64040</text>
<rect x="1646" y="545" width="41" height="11" fill="#00f"/>
<text x="1650" y="553.4" font-size="9.3" fill="#fff" stroke="#fff" stroke-width="0.2">0.63802</text>
<rect x="1646" y="577" width="41" height="11" fill="#00f"/>
<text x="1650" y="585.4" font-size="9.3" fill="#fff" stroke="#fff" stroke-width="0.2">0.63632</text>
<path d="M8 34 H15 L11.5 38 Z" fill="#000"/>
<text x="21" y="38.6" font-size="9.5" fill="#000" stroke="#000" stroke-width="0.2">AUDUSD-,H4</text>
<text x="85" y="38.6" font-size="9.3" fill="#000" stroke="#000" stroke-width="0.2">0.64112 0.64166 0.64008 0.64040</text>
<g>
<rect x="5" y="600" width="2" height="50" fill="#0f0"/>
<rect x="20" y="600" width="3" height="61" fill="#0f0"/>
<rect x="36" y="600" width="3" height="68" fill="#0f0"/>
<rect x="52" y="600" width="3" height="71" fill="#0f0"/>
<rect x="68" y="600" width="3" height="78" fill="#0f0"/>
<rect x="84" y="600" width="3" height="85" fill="#0f0"/>
<rect x="100" y="600" width="3" height="90" fill="#0f0"/>
<rect x="116" y="600" width="3" height="99" fill="#0f0"/>
<rect x="132" y="600" width="3" height="105" fill="#0f0"/>
<rect x="148" y="600" width="3" height="109" fill="#0f0"/>
<rect x="164" y="600" width="3" height="112" fill="#0f0"/>
<rect x="180" y="600" width="3" height="114" fill="#0f0"/>
<rect x="196" y="600" width="3" height="115" fill="#0f0"/>
<rect x="212" y="600" width="3" height="109" fill="#0f0"/>
<rect x="228" y="600" width="3" height="105" fill="#0f0"/>
<rect x="244" y="600" width="3" height="98" fill="#0f0"/>
<rect x="260" y="600" width="3" height="89" fill="#0f0"/>
<rect x="276" y="600" width="3" height="83" fill="#0f0"/>
<rect x="292" y="600" width="3" height="80" fill="#0f0"/>
<rect x="308" y="600" width="3" height="67" fill="#0f0"/>
<rect x="324" y="600" width="3" height="61" fill="#0f0"/>
<rect x="340" y="600" width="3" height="55" fill="#0f0"/>
<rect x="356" y="600" width="3" height="49" fill="#0f0"/>
<rect x="372" y="600" width="3" height="44" fill="#0f0"/>
<rect x="388" y="600" width="3" height="41" fill="#0f0"/>
<rect x="404" y="600" width="3" height="40" fill="#0f0"/>
<rect x="420" y="600" width="3" height="36" fill="#0f0"/>
<rect x="436" y="600" width="3" height="34" fill="#0f0"/>
<rect x="452" y="600" width="3" height="36" fill="#0f0"/>
<rect x="468" y="600" width="3" height="41" fill="#0f0"/>
<rect x="484" y="600" width="3" height="50" fill="#0f0"/>
<rect x="500" y="600" width="3" height="53" fill="#0f0"/>
<rect x="516" y="600" width="3" height="50" fill="#0f0"/>
<rect x="532" y="600" width="3" height="49" fill="#0f0"/>
<rect x="548" y="600" width="3" height="43" fill="#0f0"/>
<rect x="564" y="600" width="3" height="36" fill="#0f0"/>
<rect x="580" y="600" width="3" height="36" fill="#0f0"/>
<rect x="596" y="600" width="3" height="37" fill="#0f0"/>
<rect x="612" y="600" width="3" height="37" fill="#0f0"/>
<rect x="628" y="600" width="3" height="35" fill="#0f0"/>
<rect x="644" y="600" width="3" height="33" fill="#0f0"/>
<rect x="660" y="600" width="3" height="29" fill="#0f0"/>
<rect x="676" y="600" width="3" height="22" fill="#0f0"/>
<rect x="692" y="600" width="3" height="18" fill="#0f0"/>
<rect x="708" y="600" width="3" height="22" fill="#0f0"/>
<rect x="724" y="600" width="3" height="26" fill="#0f0"/>
<rect x="740" y="600" width="3" height="27" fill="#0f0"/>
<rect x="756" y="600" width="3" height="26" fill="#0f0"/>
<rect x="772" y="600" width="3" height="25" fill="#0f0"/>
<rect x="788" y="600" width="3" height="33" fill="#0f0"/>
<rect x="804" y="600" width="3" height="37" fill="#0f0"/>
<rect x="820" y="600" width="3" height="39" fill="#0f0"/>
<rect x="836" y="600" width="3" height="46" fill="#0f0"/>
<rect x="852" y="600" width="3" height="45" fill="#0f0"/>
<rect x="868" y="600" width="3" height="45" fill="#0f0"/>
<rect x="884" y="600" width="3" height="43" fill="#0f0"/>
<rect x="900" y="600" width="3" height="44" fill="#0f0"/>
<rect x="916" y="600" width="3" height="43" fill="#0f0"/>
<rect x="932" y="600" width="3" height="39" fill="#0f0"/>
<rect x="948" y="600" width="3" height="42" fill="#0f0"/>
<rect x="964" y="600" width="3" height="44" fill="#0f0"/>
<rect x="980" y="600" width="3" height="42" fill="#0f0"/>
<rect x="996" y="600" width="3" height="46" fill="#0f0"/>
<rect x="1012" y="600" width="3" height="47" fill="#0f0"/>
<rect x="1028" y="600" width="3" height="50" fill="#0f0"/>
<rect x="1044" y="600" width="3" height="47" fill="#0f0"/>
<rect x="1060" y="600" width="3" height="47" fill="#0f0"/>
<rect x="1076" y="600" width="3" height="50" fill="#0f0"/>
<rect x="1092" y="600" width="3" height="55" fill="#0f0"/>
<rect x="1108" y="600" width="3" height="60" fill="#0f0"/>
<rect x="1124" y="600" width="3" height="69" fill="#0f0"/>
<rect x="1140" y="600" width="3" height="73" fill="#0f0"/>
<rect x="1156" y="600" width="3" height="67" fill="#0f0"/>
<rect x="1172" y="600" width="3" height="66" fill="#0f0"/>
<rect x="1188" y="600" width="3" height="67" fill="#0f0"/>
<rect x="1204" y="600" width="3" height="66" fill="#0f0"/>
<rect x="1220" y="600" width="3" height="65" fill="#0f0"/>
<rect x="1236" y="600" width="3" height="66" fill="#0f0"/>
<rect x="1252" y="600" width="3" height="66" fill="#0f0"/>
<rect x="1268" y="600" width="3" height="61" fill="#0f0"/>
<rect x="1284" y="600" width="3" height="58" fill="#0f0"/>
</g>
<polyline points="5.5,648.3 21.5,647.3 37.5,647.0 53.5,649.0 69.5,652.0 85.5,657.3 101.5,664.0 117.5,671.0 133.5,678.3 149.5,685.0 165.5,691.0 181.5,696.0 197.5,700.7 213.5,704.0 229.5,705.7 245.5,705.7 261.5,705.3 277.5,703.7 293.5,701.0 309.5,696.0 325.5,689.8 341.5,683.0 357.5,676.2 373.5,669.8 389.5,663.1 405.5,657.9 421.5,653.0 437.5,646.0 453.5,643.1 469.5,641.0 485.5,640.7 501.5,640.7 517.5,641.7 533.5,642.7 549.5,643.1 565.5,643.1 581.5,643.1 597.5,643.0 613.5,642.2 629.5,640.8 645.5,638.7 661.5,635.9 677.5,633.3 693.5,631.2 709.5,629.5 725.5,628.4 741.5,627.3 757.5,626.3 773.5,625.1 789.5,624.7 805.5,626.0 821.5,627.9 837.5,631.0 853.5,633.6 869.5,635.2 885.5,636.8 901.5,638.5 917.5,640.2 933.5,641.3 949.5,641.7 965.5,641.7 981.5,641.7 997.5,641.8 1013.5,642.4 1029.5,642.8 1045.5,643.3 1061.5,644.5 1077.5,645.4 1093.5,646.3 1109.5,648.1 1125.5,651.3 1141.5,654.3 1157.5,656.4 1173.5,658.1 1189.5,659.8 1205.5,663.3 1221.5,664.3 1237.5,665.1 1253.5,665.4 1269.5,665.1 1285.5,663.9" fill="none" stroke="#f00" stroke-width="2"/>
<text x="9" y="611.6" font-size="9.4" fill="#000" stroke="#000" stroke-width="0.2">MACD(12,26,9) -0.002394 -0.002679</text>
<rect x="1645" y="601" width="2" height="1" fill="#000"/>
<text x="1648" y="610" font-size="9.3" fill="#000" stroke="#000" stroke-width="0.2">0</text>
<text x="1648" y="716.4" font-size="9.3" fill="#000" stroke="#000" stroke-width="0.2">-0.005025</text>
<path d="M6 744.5 H1644" stroke="#000" stroke-width="1" stroke-dasharray="3 3" fill="none"/>
<path d="M6 776.5 H1644" stroke="#000" stroke-width="1" stroke-dasharray="3 3" fill="none"/>
<path d="M6 813.5 H1644" stroke="#000" stroke-width="1" stroke-dasharray="3 3" fill="none"/>
<polyline points="5.5,793.2 21.5,795.2 37.5,794.5 53.5,793.8 69.5,796.5 85.5,798.2 101.5,798.5 117.5,802.8 133.5,803.2 149.5,802.5 165.5,803.5 181.5,804.2 197.5,804.2 213.5,795.2 229.5,796.5 245.5,791.2 261.5,787.5 277.5,788.5 293.5,792.5 309.5,774.8 325.5,781.2 341.5,781.5 357.5,780.2 373.5,780.8 389.5,781.8 405.5,784.2 421.5,781.2 437.5,781.5 453.5,787.8 469.5,792.8 485.5,796.5 501.5,792.8 517.5,784.2 533.5,785.2 549.5,779.8 565.5,775.8 581.5,781.8 597.5,785.2 613.5,783.8 629.5,782.8 645.5,781.8 661.5,777.8 677.5,773.5 693.5,776.5 709.5,784.5 725.5,787.5 741.5,783.5 757.5,783.5 773.5,782.2 789.5,790.2 805.5,790.2 821.5,789.5 837.5,795.5 853.5,785.2 869.5,785.2 885.5,785.5 901.5,787.5 917.5,787.5 933.5,780.5 949.5,789.2 965.5,789.2 981.5,785.2 997.5,790.2 1013.5,791.2 1029.5,791.5 1045.5,783.2 1061.5,786.2 1077.5,790.5 1093.5,795.0 1109.5,795.7 1125.5,800.4 1141.5,796.5 1157.5,784.5 1173.5,788.1 1189.5,789.5 1205.5,788.9 1221.5,788.0 1237.5,790.5 1253.5,792.5 1269.5,785.0 1285.5,785.0" fill="none" stroke="#1e90ff" stroke-width="2"/>
<text x="9" y="733.6" font-size="9.4" fill="#000" stroke="#000" stroke-width="0.2">RSI(14) 41.2583</text>
<text x="1648" y="732" font-size="9.3" fill="#000" stroke="#000" stroke-width="0.2">100</text>
<text x="1648" y="748" font-size="9.3" fill="#000" stroke="#000" stroke-width="0.2">80</text>
<text x="1648" y="780" font-size="9.3" fill="#000" stroke="#000" stroke-width="0.2">50</text>
<text x="1648" y="817" font-size="9.3" fill="#000" stroke="#000" stroke-width="0.2">15</text>
<text x="1648" y="827" font-size="9.3" fill="#000" stroke="#000" stroke-width="0.2">0</text>
<rect x="5" y="831" width="1" height="3" fill="#000"/>
<text x="4" y="843" font-size="9.45" fill="#000" stroke="#000" stroke-width="0.2">1 Aug 2023</text>
<rect x="69" y="831" width="1" height="3" fill="#000"/>
<text x="68" y="843" font-size="9.45" fill="#000" stroke="#000" stroke-width="0.2">2 Aug 00:00</text>
<rect x="133" y="831" width="1" height="3" fill="#000"/>
<text x="132" y="843" font-size="9.45" fill="#000" stroke="#000" stroke-width="0.2">2 Aug 16:00</text>
<rect x="197" y="831" width="1" height="3" fill="#000"/>
<text x="196" y="843" font-size="9.45" fill="#000" stroke="#000" stroke-width="0.2">3 Aug 08:00</text>
<rect x="261" y="831" width="1" height="3" fill="#000"/>
<text x="260" y="843" font-size="9.45" fill="#000" stroke="#000" stroke-width="0.2">4 Aug 00:00</text>
<rect x="325" y="831" width="1" height="3" fill="#000"/>
<text x="324" y="843" font-size="9.45" fill="#000" stroke="#000" stroke-width="0.2">4 Aug 16:00</text>
<rect x="389" y="831" width="1" height="3" fill="#000"/>
<text x="388" y="843" font-size="9.45" fill="#000" stroke="#000" stroke-width="0.2">7 Aug 08:00</text>
<rect x="453" y="831" width="1" height="3" fill="#000"/>
<text x="452" y="843" font-size="9.45" fill="#000" stroke="#000" stroke-width="0.2">8 Aug 00:00</text>
<rect x="517" y="831" width="1" height="3" fill="#000"/>
<text x="516" y="843" font-size="9.45" fill="#000" stroke="#000" stroke-width="0.2">8 Aug 16:00</text>
<rect x="581" y="831" width="1" height="3" fill="#000"/>
<text x="580" y="843" font-size="9.45" fill="#000" stroke="#000" stroke-width="0.2">9 Aug 08:00</text>
<rect x="645" y="831" width="1" height="3" fill="#000"/>
<text x="644" y="843" font-size="9.45" fill="#000" stroke="#000" stroke-width="0.2">10 Aug 00:00</text>
<rect x="709" y="831" width="1" height="3" fill="#000"/>
<text x="708" y="843" font-size="9.45" fill="#000" stroke="#000" stroke-width="0.2">10 Aug 16:00</text>
<rect x="773" y="831" width="1" height="3" fill="#000"/>
<text x="772" y="843" font-size="9.45" fill="#000" stroke="#000" stroke-width="0.2">11 Aug 08:00</text>
<rect x="837" y="831" width="1" height="3" fill="#000"/>
<text x="836" y="843" font-size="9.45" fill="#000" stroke="#000" stroke-width="0.2">14 Aug 00:00</text>
<rect x="901" y="831" width="1" height="3" fill="#000"/>
<text x="900" y="843" font-size="9.45" fill="#000" stroke="#000" stroke-width="0.2">14 Aug 16:00</text>
<rect x="965" y="831" width="1" height="3" fill="#000"/>
<text x="964" y="843" font-size="9.45" fill="#000" stroke="#000" stroke-width="0.2">15 Aug 08:00</text>
<rect x="1029" y="831" width="1" height="3" fill="#000"/>
<text x="1028" y="843" font-size="9.45" fill="#000" stroke="#000" stroke-width="0.2">16 Aug 00:00</text>
<rect x="1093" y="831" width="1" height="3" fill="#000"/>
<text x="1092" y="843" font-size="9.45" fill="#000" stroke="#000" stroke-width="0.2">16 Aug 16:00</text>
<rect x="1157" y="831" width="1" height="3" fill="#000"/>
<text x="1156" y="843" font-size="9.45" fill="#000" stroke="#000" stroke-width="0.2">17 Aug 08:00</text>
<rect x="1221" y="831" width="1" height="3" fill="#000"/>
<text x="1220" y="843" font-size="9.45" fill="#000" stroke="#000" stroke-width="0.2">18 Aug 00:00</text>
<rect x="1285" y="831" width="1" height="3" fill="#000"/>
<text x="1284" y="843" font-size="9.45" fill="#000" stroke="#000" stroke-width="0.2">18 Aug 16:00</text>
</svg>
</body></html>
